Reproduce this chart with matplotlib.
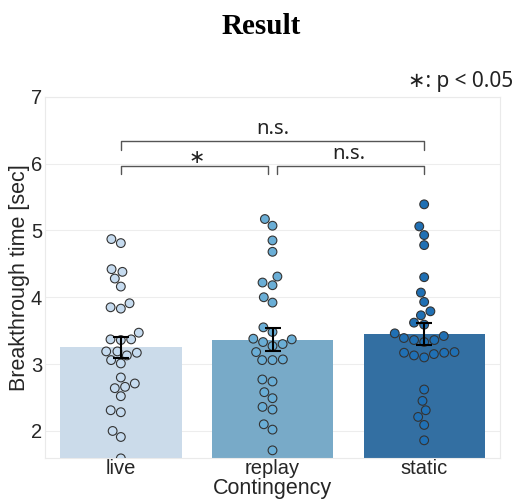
import numpy as np
import matplotlib
matplotlib.use('Agg')
import matplotlib.pyplot as plt
import seaborn as sns
import pandas as pd

categories = ['live', 'replay', 'static']
live = [4.87, 4.81, 4.42, 4.38, 4.28, 4.16, 3.91, 3.85, 3.83, 3.47, 3.37, 3.36, 3.37,
        3.17, 3.19, 3.19, 3.13, 3.06, 3.01, 2.80, 2.64, 2.66, 2.71, 2.52, 2.31, 2.28,
        2.00, 1.91, 1.59]
replay = [5.17, 5.07, 4.85, 4.68, 4.31, 4.22, 4.18, 4.00, 3.92, 3.55, 3.48, 3.37, 3.38,
          3.30, 3.27, 3.33, 3.18, 3.06, 3.06, 3.07, 2.77, 2.74, 2.58, 2.49, 2.36, 2.32,
          2.10, 2.02, 1.71]
static = [5.39, 5.06, 4.93, 4.78, 4.30, 4.07, 3.93, 3.79, 3.73, 3.62, 3.59, 3.42, 3.46,
          3.39, 3.36, 3.33, 3.36, 3.18, 3.17, 3.13, 3.10, 3.15, 3.17, 2.62, 2.45, 2.31,
          2.21, 2.09, 1.86]
yticks = [2, 3, 4, 5, 6, 7]
comparisons = [(0, 1, '∗'), (1, 2, 'n.s.'), (0, 2, 'n.s.')]

sns.set_style('whitegrid')
plt.rcParams['font.family'] = ['Liberation Sans', 'DejaVu Sans']

fig = plt.figure(figsize=(5.16, 5.01), dpi=100)
ax = fig.add_axes([45 / 516, 1 - 457.7 / 501, 455 / 516, 361 / 501])

palette = sns.color_palette('Blues', 3)
bar_colors = [sns.desaturate(c, 0.75) for c in palette]
data = [live, replay, static]
means = [np.mean(d) for d in data]
ses = [np.std(d, ddof=1) / np.sqrt(len(d)) for d in data]

ax.set_ylim(1.6, 7.0)
ax.set_xlim(-0.5, 2.5)
ax.bar(range(3), means, width=0.8, color=bar_colors, zorder=1, linewidth=0)

df = pd.DataFrame({'Contingency': np.repeat(categories, [len(d) for d in data]),
                   'time': np.concatenate(data)})
sns.swarmplot(data=df, x='Contingency', y='time', order=categories, hue='Contingency',
              hue_order=categories, palette=palette, size=6.3, edgecolor='#333333',
              linewidth=0.8, ax=ax, legend=False, zorder=3)

ax.errorbar(range(3), means, yerr=ses, fmt='none', ecolor='black', elinewidth=1.5,
            capsize=5.5, capthick=1.5, zorder=6)

ax.set_ylim(1.6, 7.0)
ax.set_xlim(-0.5, 2.5)
ax.set_yticks(yticks)
ax.set_xticks(range(3))
ax.set_xticklabels(categories)
ax.tick_params(axis='both', labelsize=14.5, length=0, pad=2, colors='#262626')
ax.tick_params(axis='x', pad=1)
ax.grid(axis='y', color='#ededed', linewidth=0.8)
ax.grid(axis='x', visible=False)
for s in ax.spines.values():
    s.set_color('#eaeaea')
    s.set_linewidth(0.8)
ax.set_xlabel('Contingency', fontsize=15.5, labelpad=0, color='#262626')
ax.set_ylabel('Breakthrough time [sec]', fontsize=15.5, labelpad=1, color='#262626')

# significance brackets
ann_font = ['Noto Sans', 'DejaVu Sans']
levels = {(0, 1): 5.96, (1, 2): 5.96, (0, 2): 6.33}
for a, b, lab in comparisons:
    y = levels[(a, b)]
    x1 = a + (0.0 if a == 0 else 0.027)
    x2 = b - (0.0 if b == 2 else 0.027)
    h = 0.12
    ax.plot([x1, x1, x2, x2], [y - h, y, y, y - h], color='#555555', lw=1.0,
            zorder=7, clip_on=False)
    if lab == '∗':
        ax.text((a + b) / 2, y + 0.13, lab, ha='center', va='center', fontsize=14,
                family=['DejaVu Sans'], color='#222222')
    else:
        ax.text((a + b) / 2, y + 0.03, lab, ha='center', va='bottom', fontsize=14.5,
                family=ann_font, color='#222222')

fig.text(0.5054, 1 - 27 / 501, 'Result', ha='center', va='center', fontsize=21,
         fontweight='bold', family=['Liberation Serif', 'DejaVu Serif'], color='black')
fig.text(0.994, 1 - 86.7 / 501, '∗: p < 0.05', ha='right', va='baseline', fontsize=15,
         family=ann_font, color='#222222')

fig.savefig('out.png', dpi=100)
